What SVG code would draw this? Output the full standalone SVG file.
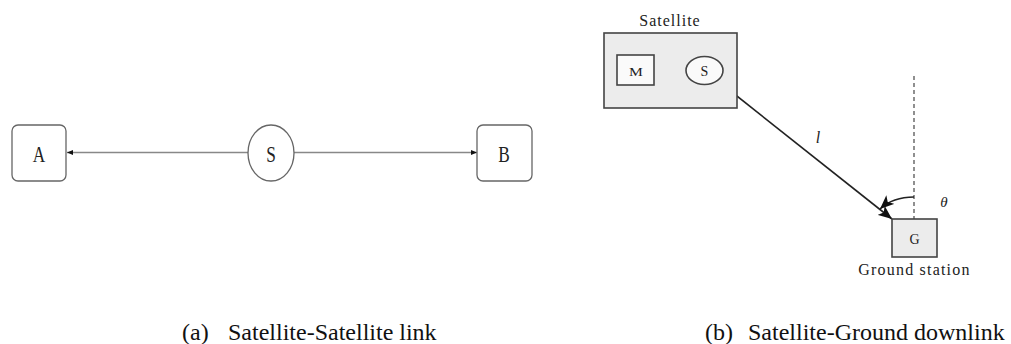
<svg xmlns="http://www.w3.org/2000/svg" width="1011" height="344" viewBox="0 0 1011 344">
<style>
.bg{fill:#ffffff}
.lbox{fill:#ffffff;stroke:#666;stroke-width:1.3}
.lnode{fill:#ffffff;stroke:#666;stroke-width:1.3}
.ltxt{font-family:"Liberation Serif",serif;font-size:24px;fill:#222;text-anchor:middle}
.edge-l{stroke:#888;stroke-width:1.6;fill:none}
.sat{fill:#ececec;stroke:#444;stroke-width:1.6}
.inner{fill:#fafafa;stroke:#444;stroke-width:1.6}
.rtxt{font-family:"Liberation Serif",serif;fill:#222;text-anchor:middle}
.edge-r{stroke:#222;stroke-width:1.6;fill:none}
.dash{stroke:#555;stroke-width:1.3;stroke-dasharray:4 3;fill:none}
.cap{font-family:"Liberation Serif",serif;font-size:24px;fill:#111}
</style>
<defs>
<marker id="ah" viewBox="0 0 10 10" refX="10" refY="5" markerWidth="6" markerHeight="6" orient="auto" markerUnits="userSpaceOnUse">
<path d="M0,1 L10,5 L0,9 Z" fill="#111"/>
</marker>
<marker id="stealth" viewBox="0 0 12 10" refX="12" refY="5" markerWidth="14" markerHeight="12" orient="auto" markerUnits="userSpaceOnUse">
<path d="M0,0 L12,5 L0,10 L3,5 Z" fill="#111"/>
</marker>
</defs>
<rect class="bg" x="0" y="0" width="1011" height="344"/>

<g id="connectors">
<line class="edge-l" x1="248" y1="152.5" x2="67" y2="152.5" marker-end="url(#ah)"/>
<line class="edge-l" x1="294" y1="152.5" x2="477" y2="152.5" marker-end="url(#ah)"/>
<line class="edge-r" x1="718" y1="81" x2="892" y2="219" marker-end="url(#stealth)"/>
<line class="dash" x1="914" y1="76" x2="914" y2="219"/>
<path class="edge-r" d="M914,197 Q893,197 880,209" marker-end="url(#stealth)"/>
<text class="rtxt" x="818" y="143" font-size="16" font-style="italic">l</text>
<text class="rtxt" x="944" y="207" font-size="15" font-style="italic">θ</text>
</g>

<g id="node-A">
<rect class="lbox" x="12" y="125" width="54" height="56" rx="6"/>
<text class="ltxt" transform="translate(39,161.5) scale(0.72,1)">A</text>
</g>
<g id="node-S">
<ellipse class="lnode" cx="271" cy="153" rx="23" ry="28"/>
<text class="ltxt" transform="translate(271,161.5) scale(0.72,1)">S</text>
</g>
<g id="node-B">
<rect class="lbox" x="477" y="125" width="55" height="56" rx="6"/>
<text class="ltxt" transform="translate(504,161.5) scale(0.72,1)">B</text>
</g>

<g id="node-satellite">
<text class="rtxt" x="670" y="26" font-size="16" letter-spacing="1">Satellite</text>
<rect class="sat" x="604" y="33" width="133" height="75"/>
</g>
<g id="node-M">
<rect class="inner" x="617" y="55" width="37" height="30"/>
<text class="rtxt" transform="translate(636,75.5) scale(1.2,1)" font-size="13">M</text>
</g>
<g id="node-S2">
<ellipse class="inner" cx="704.5" cy="70.5" rx="18.5" ry="14"/>
<text class="rtxt" x="704.5" y="75.5" font-size="14">S</text>
</g>
<g id="node-G">
<rect class="sat" x="892" y="219" width="45" height="38"/>
<text class="rtxt" x="914.5" y="244" font-size="14">G</text>
<text class="rtxt" x="914.5" y="275" font-size="16" letter-spacing="1.2">Ground station</text>
</g>

<g id="captions">
<text class="cap" x="182" y="340">(a)</text>
<text class="cap" x="228" y="340">Satellite-Satellite link</text>
<text class="cap" x="705" y="340">(b)</text>
<text class="cap" x="748" y="340">Satellite-Ground downlink</text>
</g>
</svg>
